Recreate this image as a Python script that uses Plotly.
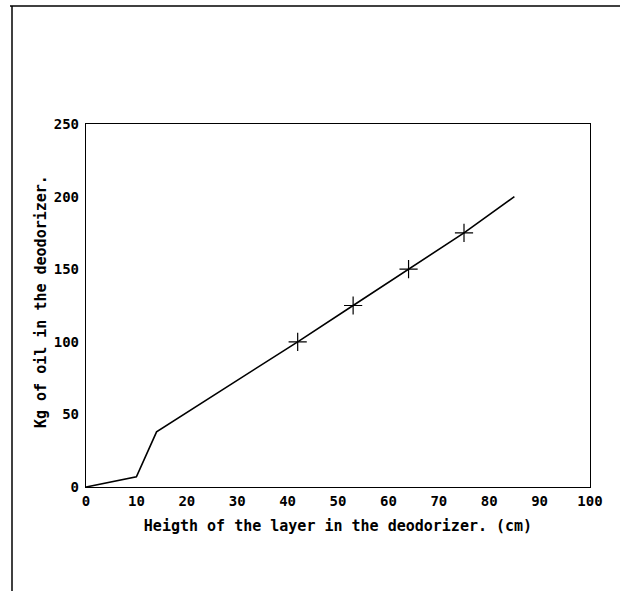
import plotly.graph_objects as go

# Data
line_x = [0, 10, 14, 42, 53, 64, 75, 85]
line_y = [0, 7, 38, 100, 125, 150, 175, 200]
marker_x = [42, 53, 64, 75]
marker_y = [100, 125, 150, 175]
x_ticks = [0, 10, 20, 30, 40, 50, 60, 70, 80, 90, 100]
y_ticks = [0, 50, 100, 150, 200, 250]

W, H = 620, 591
L, R, T, B = 86, 30, 124, 104
pw, ph = W - L - R, H - T - B

def px(x):
    return (x - L) / pw

def py(y):
    return (H - B - y) / ph

fig = go.Figure()
fig.add_trace(go.Scatter(x=line_x, y=line_y, mode="lines",
                         line=dict(color="black", width=1.6),
                         showlegend=False, hoverinfo="skip"))
fig.add_trace(go.Scatter(x=marker_x, y=marker_y, mode="markers",
                         marker=dict(symbol="cross-thin", size=13,
                                     line=dict(color="black", width=1.2)),
                         showlegend=False))

mono = "DejaVu Sans Mono"
axis_common = dict(showline=True, linecolor="black", linewidth=1.3, mirror=True,
                   showgrid=False, zeroline=False, ticks="",
                   tickfont=dict(family=mono, size=14, color="black", weight="bold"))

fig.update_xaxes(range=[0, 100], tickvals=x_ticks, ticklabelstandoff=1,
                 title=dict(text="Heigth of the layer in the deodorizer. (cm)",
                            font=dict(family=mono, size=15, color="black", weight="bold"),
                            standoff=12),
                 **axis_common)
fig.update_yaxes(range=[0, 250], tickvals=y_ticks, ticklabelstandoff=3,
                 **axis_common)

fig.add_annotation(text="Kg of oil in the deodorizer.", textangle=-90,
                   xref="paper", yref="paper", x=px(41), y=py(302),
                   xanchor="center", yanchor="middle", showarrow=False,
                   font=dict(family=mono, size=15, color="black", weight="bold"))

# outer page border (top and left)
fig.add_shape(type="line", xref="paper", yref="paper",
              x0=px(10), x1=px(620), y0=py(6), y1=py(6),
              line=dict(color="black", width=1.5))
fig.add_shape(type="line", xref="paper", yref="paper",
              x0=px(12), x1=px(12), y0=py(6), y1=py(591),
              line=dict(color="black", width=1.5))

fig.update_layout(width=W, height=H,
                  margin=dict(l=L, r=R, t=T, b=B),
                  paper_bgcolor="white", plot_bgcolor="white",
                  font=dict(family=mono, color="black"))

fig.write_html("out.html")
